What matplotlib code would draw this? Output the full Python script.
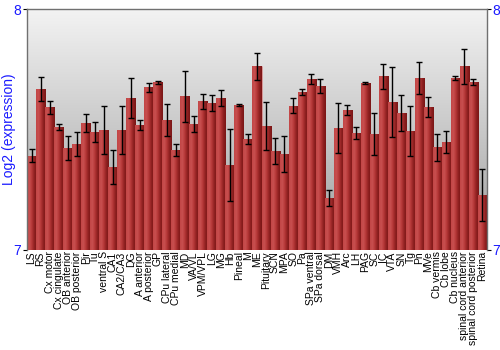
import numpy as np
import matplotlib
matplotlib.use("Agg")
import matplotlib.pyplot as plt

regions = ["LS", "RS", "Cx motor", "Cx cingulate", "OB anterior", "OB posterior",
           "Pir", "Tu", "ventral S", "CA1", "CA2/CA3", "DG", "A anterior",
           "A posterior", "GP", "CPu lateral", "CPu medial", "MD", "VA/VL",
           "VPM/VPL", "LG", "MG", "Hb", "Pineal", "M", "ME", "Pituitary", "SCN",
           "MPA", "SO", "Pa", "SPa ventral", "SPa dorsal", "DM", "VMH", "Arc",
           "LH", "PAG", "SC", "IC", "VTA", "SN", "Tg", "Pn", "MVe", "Cb vermis",
           "Cb lobe", "Cb nucleus", "spinal cord anterior", "spinal cord posterior",
           "Retina"]

expr = [7.390, 7.668, 7.593, 7.510, 7.423, 7.440, 7.527, 7.490, 7.498, 7.344,
        7.498, 7.631, 7.519, 7.676, 7.697, 7.539, 7.415, 7.639, 7.523, 7.618,
        7.610, 7.631, 7.353, 7.602, 7.461, 7.763, 7.515, 7.411, 7.398, 7.598,
        7.656, 7.710, 7.680, 7.216, 7.506, 7.581, 7.485, 7.693, 7.481, 7.722,
        7.614, 7.568, 7.494, 7.714, 7.593, 7.427, 7.448, 7.714, 7.763, 7.697,
        7.228]

err = [0.027, 0.048, 0.027, 0.014, 0.050, 0.050, 0.037, 0.041, 0.100, 0.072,
       0.100, 0.083, 0.021, 0.019, 0.006, 0.066, 0.025, 0.106, 0.033, 0.031,
       0.035, 0.035, 0.149, 0.004, 0.021, 0.056, 0.100, 0.054, 0.075, 0.031,
       0.014, 0.021, 0.029, 0.033, 0.104, 0.021, 0.025, 0.006, 0.087, 0.052,
       0.145, 0.075, 0.104, 0.066, 0.041, 0.056, 0.044, 0.010, 0.073, 0.012,
       0.110]

plt.rcParams['font.family'] = ['Liberation Sans', 'DejaVu Sans']

fig = plt.figure(figsize=(5, 3.5), dpi=100)
ax = fig.add_axes([0.054, 0.286, 0.920, 0.688])

x = np.arange(len(regions))

# background gradient
bg = np.linspace(0, 1, 256).reshape(-1, 1)
ax.imshow(bg, extent=[-0.5, len(regions) - 0.5, 7, 8], aspect='auto',
          cmap=matplotlib.colors.LinearSegmentedColormap.from_list(
              'bg', ['#f3f3f3', '#9e9e9e'][::-1]),
          origin='lower', zorder=0)

bars = ax.bar(x, np.array(expr) - 7, bottom=7, width=1.0, color='#b53a3a',
              edgecolor=(1, 0.75, 0.75, 0.35), linewidth=0.6, zorder=2)

# horizontal shading on each bar
shade = np.linspace(0, 1, 64).reshape(1, -1)
bar_cmap = matplotlib.colors.LinearSegmentedColormap.from_list(
    'bar', ['#c24646', '#c85050', '#b43636', '#8e2020', '#7a1616'])
for xi, v, b in zip(x, expr, bars):
    im = ax.imshow(shade, extent=[xi - 0.5, xi + 0.5, 7, v], aspect='auto',
                   cmap=bar_cmap, zorder=2.5)
    im.set_clip_path(b)

ax.errorbar(x, expr, yerr=err, fmt='none', ecolor='black', elinewidth=1.0,
            capsize=2, capthick=1.0, zorder=3)

ax.set_xlim(-0.5, len(regions) - 0.5)
ax.set_ylim(7, 8)

ax.set_xticks(x)
ax.set_xticklabels(regions, rotation=90, fontsize=7.5)
ax.tick_params(axis='x', length=0, pad=1)

ax.set_yticks([7, 8])
ax.set_yticklabels(['7', '8'])
ax.tick_params(axis='y', colors='black', labelcolor='#1a1aff', labelsize=10,
               length=3, width=0.8, pad=1, right=True, labelright=True)

ax.set_ylabel('Log2 (expression)', color='#1a1aff', fontsize=10, labelpad=-2)

for side in ['top', 'right', 'left']:
    ax.spines[side].set_color('#707070')
    ax.spines[side].set_linewidth(1.0)
ax.spines['bottom'].set_visible(False)

fig.savefig('out.png', dpi=100)
